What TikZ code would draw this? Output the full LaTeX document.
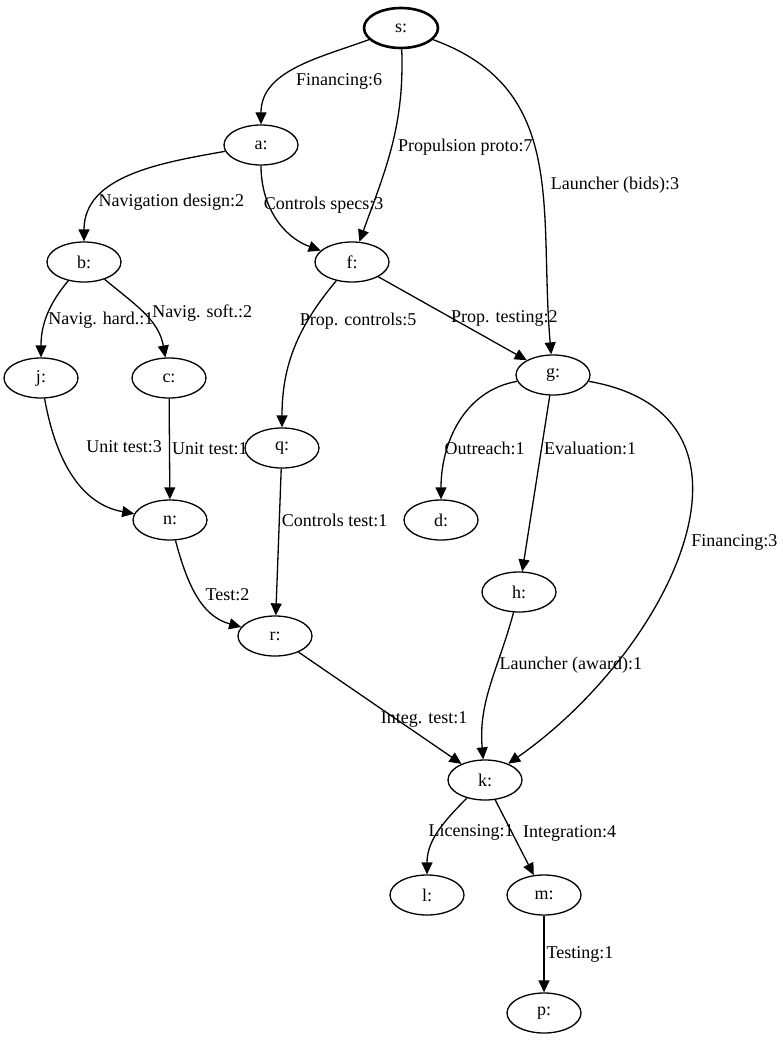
\documentclass[tikz,border=0pt]{standalone}
\usepackage{fontspec}
\setmainfont{Liberation Serif}
\usetikzlibrary{arrows.meta, shapes.geometric}
\begin{document}
\begin{tikzpicture}[x=1pt, y=-1pt, font=\fontsize{18}{20}\selectfont, line width=1.3pt,
    task/.style={draw, ellipse, minimum width=74pt, minimum height=40pt, inner sep=0pt},
    dep/.style={draw, -{Triangle[width=11pt,length=12pt]}},
    lbl/.style={anchor=west, inner sep=2pt}]
    \useasboundingbox (0,0) rectangle (783,1043);
    % nodes of the network
    \node[task, line width=2.6pt] (s) at (401,28)  {s:};
    \node[task]             (a) at (261,145) {a:};
    \node[task]             (b) at (84,262)  {b:};
    \node[task]             (f) at (352,262) {f:};
    \node[task]             (j) at (41,378)  {j:};
    \node[task]             (c) at (169,378) {c:};
    \node[task]             (g) at (553,375) {g:};
    \node[task]             (q) at (282,448) {q:};
    \node[task]             (n) at (170,520) {n:};
    \node[task]             (d) at (441,520) {d:};
    \node[task]             (h) at (519,592) {h:};
    \node[task]             (r) at (275,636) {r:};
    \node[task]             (k) at (485,780) {k:};
    \node[task]             (l) at (427,895) {l:};
    \node[task]             (m) at (544,895) {m:};
    \node[task]             (p) at (544,1013) {p:};

    % dependencies
    \draw[dep] (s) to[out=200, in=90] node[lbl, pos=.65, xshift=14pt] {Financing:6} (a);
    \draw[dep] (s) to[out=-88, in=70] node[lbl, pos=.5, xshift=4pt] {Propulsion proto:7} (f);
    \draw[dep] (s) to[out=-20, in=95, looseness=1.1] node[lbl, pos=.57, xshift=6pt] {Launcher (bids):3} (g);
    \draw[dep] (a) to[out=190, in=90] node[lbl, pos=.76] {Navigation design:2} (b);
    \draw[dep] (a) to[out=-90, in=160] node[lbl, pos=.36, xshift=-8pt] {Controls specs:3} (f);
    \draw[dep] (b) to[out=230, in=90] node[lbl, pos=.55] {Navig. hard.:1} (j);
    \draw[dep] (b) to[out=-40, in=100] node[lbl, pos=.5, xshift=6pt] {Navig. soft.:2} (c);
    \draw[dep] (f) to[out=230, in=90] node[lbl, pos=.3, xshift=-10pt] {Prop. controls:5} (q);
    \draw[dep] (f) -- node[lbl, pos=.5, xshift=-4pt] {Prop. testing:2} (g);
    \draw[dep] (j) to[out=-80, in=170] node[lbl, pos=.3, xshift=26pt] {Unit test:3} (n);
    \draw[dep] (c) -- node[lbl, pos=.5] {Unit test:1} (n);
    \draw[dep] (g) to[out=190, in=90] node[lbl, pos=.68, xshift=-6pt] {Outreach:1} (d);
    \draw[dep] (g) -- node[lbl, pos=.3] {Evaluation:1} (h);
    \draw[dep] (g) to[out=-10, in=35, looseness=1.3] node[lbl, pos=.5, xshift=6pt] {Financing:3} (k);
    \draw[dep] (q) -- node[lbl, pos=.35] {Controls test:1} (r);
    \draw[dep] (n) to[out=-75, in=165] node[lbl, pos=.5, xshift=6pt] {Test:2} (r);
    \draw[dep] (h) to[out=255, in=95] node[lbl, pos=.35] {Launcher (award):1} (k);
    \draw[dep] (r) -- node[lbl, pos=.6, xshift=-18pt] {Integ. test:1} (k);
    \draw[dep] (k) to[out=225, in=90] node[lbl, pos=.5, xshift=-12pt] {Licensing:1} (l);
    \draw[dep] (k) -- node[lbl, pos=.45, xshift=8pt] {Integration:4} (m);
    \draw[dep] (m) -- node[lbl, pos=.5] {Testing:1} (p);
\end{tikzpicture}
\end{document}
